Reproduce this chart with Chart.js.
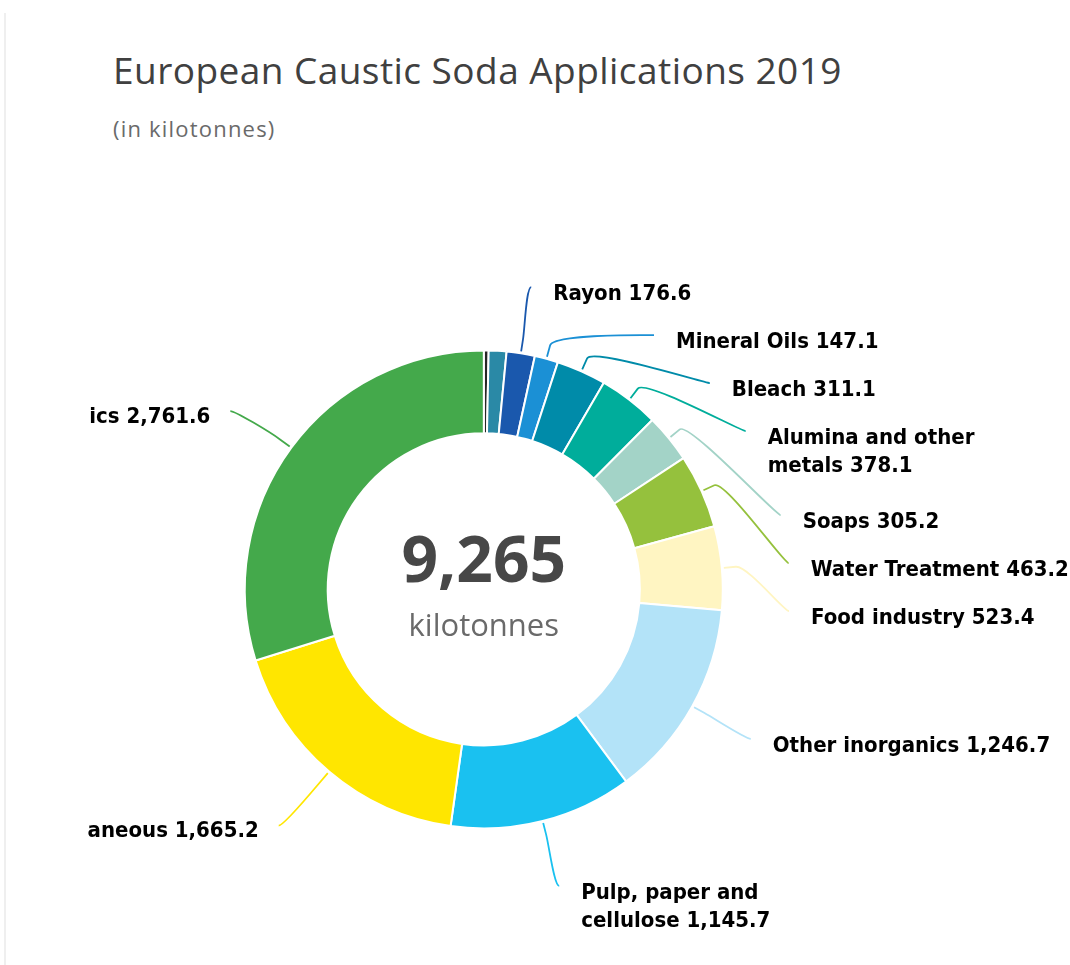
<!DOCTYPE html>
<html>
<head>
<meta charset="utf-8">
<title>European Caustic Soda Applications 2019</title>
<script src="https://cdn.jsdelivr.net/npm/chart.js@4/dist/chart.umd.min.js"></script>
<style>
  body { margin: 0; background: #fff; width: 1070px; height: 965px; overflow: hidden; position: relative; font-family: "Open Sans", sans-serif; }
  #edge { position: absolute; left: 4px; top: 13px; bottom: 0; width: 2px; background: #efefef; }
  #title { position: absolute; left: 113px; top: 44px; font-size: 37px; letter-spacing: 0.45px; color: #404040; white-space: nowrap; }
  #subtitle { position: absolute; left: 113px; top: 113px; font-size: 22px; letter-spacing: 1.2px; color: #6a6a6a; white-space: nowrap; }
  #box { position: absolute; left: 88px; top: 0; width: 982px; height: 965px; }
</style>
</head>
<body>
<div id="edge"></div>
<div id="title">European Caustic Soda Applications 2019</div>
<div id="subtitle">(in kilotonnes)</div>
<div id="box"><canvas id="chart"></canvas></div>

<script>
// data (kilotonnes), clockwise from 12 o'clock
const categories = ['', '', 'Rayon', 'Mineral Oils', 'Bleach', ['Alumina and other', 'metals'], 'Soaps',
  'Water Treatment', 'Food industry', 'Other inorganics', ['Pulp, paper and', 'cellulose'], 'Miscellaneous', 'Organics'];
const values = [30.0, 111.1, 176.6, 147.1, 311.1, 378.1, 305.2, 463.2, 523.4, 1246.7, 1145.7, 1665.2, 2761.6];
const colors = ['#262626', '#2a89a6', '#1a58ad', '#1b90d5', '#008ba9', '#00ad9b', '#a3d3c7',
  '#95c13d', '#fff5c2', '#b3e3f8', '#1ac1f0', '#ffe600', '#44a94b'];

const labelDistance = 67;
const fmt = v => v.toLocaleString('en-US', { minimumFractionDigits: 1, maximumFractionDigits: 1 });
const total = values.reduce((a, b) => a + b, 0);

// outside labels with connectors, plus the total in the hole
const sliceLabels = {
  id: 'sliceLabels',
  afterDatasetsDraw(chart) {
    const ctx = chart.ctx;
    const arcs = chart.getDatasetMeta(0).data;
    const items = [];
    let cx = 0, cy = 0;

    arcs.forEach((arc, i) => {
      const p = arc.getProps(['x', 'y', 'startAngle', 'endAngle', 'outerRadius']);
      cx = p.x; cy = p.y;
      if (!categories[i]) return;
      const mid = (p.startAngle + p.endAngle) / 2;
      const lines = [].concat(categories[i]);
      lines[lines.length - 1] += ' ' + fmt(values[i]);
      items.push({
        i, p, mid, lines,
        right: Math.cos(mid) >= 0,
        y: p.y + Math.sin(mid) * (p.outerRadius + labelDistance)
      });
    });

    // push overlapping labels down, per side
    [true, false].forEach(side => {
      const list = items.filter(d => d.right === side).sort((a, b) => a.y - b.y);
      for (let k = 1; k < list.length; k++) {
        const prev = list[k - 1];
        const h = 48 + 36 * (prev.lines.length - 1);
        if (list[k].y < prev.y + h) list[k].y = prev.y + h;
      }
    });

    ctx.save();
    items.forEach(d => {
      const r = d.p.outerRadius + labelDistance;
      const dy = d.y - d.p.y;
      const dx = Math.sqrt(Math.max(r * r - dy * dy, 0));
      const ax = d.right ? d.p.x + dx : d.p.x - dx - 7;
      const ay = d.right ? d.y : d.y + 3;
      const ro = d.p.outerRadius;
      const touch = { x: d.p.x + Math.cos(d.mid) * (ro + 2), y: d.p.y + Math.sin(d.mid) * (ro + 2) };
      const brk = { x: d.p.x + Math.cos(d.mid) * (ro + 14), y: d.p.y + Math.sin(d.mid) * (ro + 14) };

      ctx.beginPath();
      ctx.moveTo(ax, ay);
      ctx.bezierCurveTo(ax + (d.right ? -5 : 5), ay, 2 * brk.x - touch.x, 2 * brk.y - touch.y, brk.x, brk.y);
      ctx.lineTo(touch.x, touch.y);
      ctx.strokeStyle = colors[d.i];
      ctx.lineWidth = 1.8;
      ctx.stroke();

      ctx.fillStyle = '#000';
      ctx.font = 'bold 22px "DejaVu Sans Condensed", "DejaVu Sans", sans-serif';
      ctx.textAlign = d.right ? 'left' : 'right';
      ctx.textBaseline = 'middle';
      const tx = d.right ? ax + 22 : ax - 20;
      const ty = d.right ? d.y + 7 : d.y + 9;
      d.lines.forEach((line, n) => ctx.fillText(line, tx, ty + n * 28));
    });

    ctx.textAlign = 'center';
    ctx.textBaseline = 'alphabetic';
    ctx.fillStyle = '#474747';
    ctx.font = 'bold 64px "Open Sans", sans-serif';
    ctx.fillText(Math.round(total).toLocaleString('en-US'), cx, cy - 7);
    ctx.fillStyle = '#6a6a6a';
    ctx.font = '31px "Open Sans", sans-serif';
    ctx.fillText('kilotonnes', cx, cy + 47);
    ctx.restore();
  }
};

new Chart(document.getElementById('chart'), {
  type: 'doughnut',
  data: {
    labels: categories,
    datasets: [{
      data: values,
      backgroundColor: colors,
      borderColor: '#fff',
      borderWidth: 2
    }]
  },
  options: {
    responsive: true,
    maintainAspectRatio: false,
    animation: false,
    radius: 239,
    cutout: '65.3%',
    layout: { padding: { left: 100, right: 290.4, top: 250, bottom: 36.2 } },
    plugins: {
      legend: { display: false },
      tooltip: { enabled: false }
    }
  },
  plugins: [sliceLabels]
});
</script>
</body>
</html>
